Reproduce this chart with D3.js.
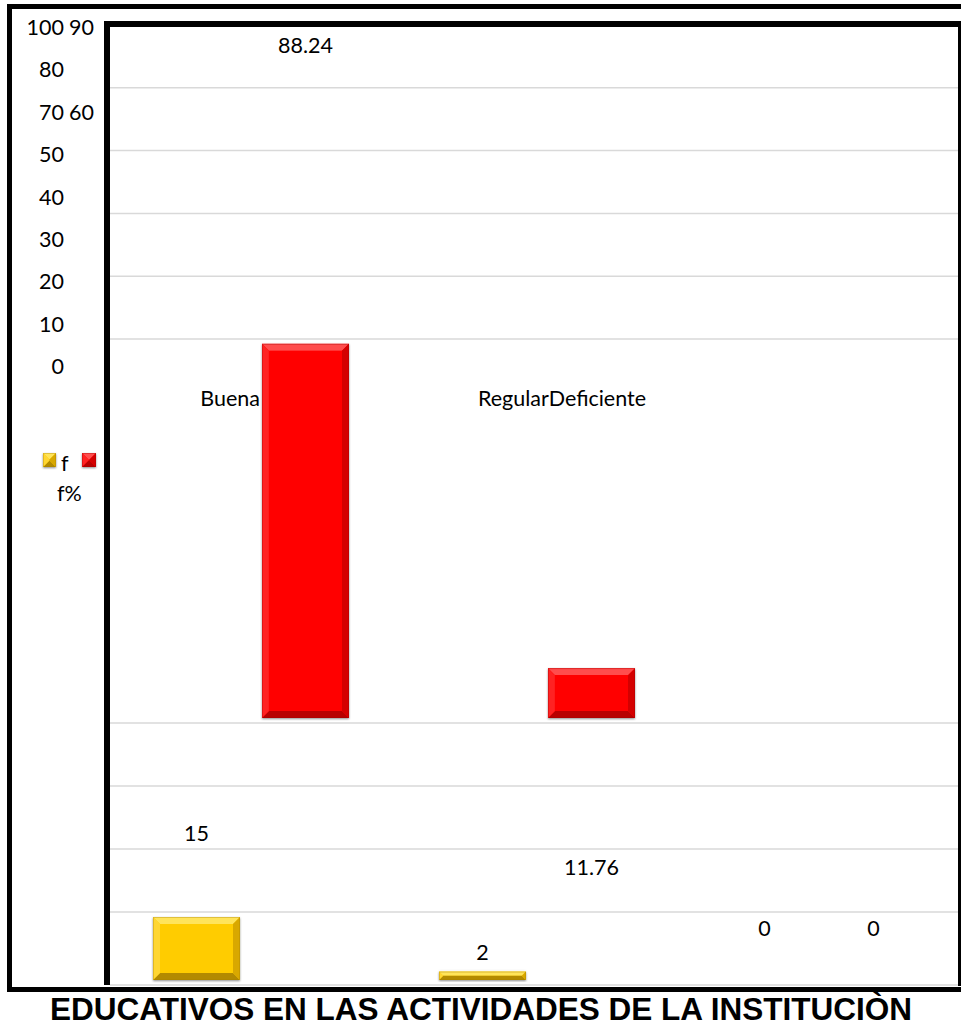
<!DOCTYPE html>
<html>
<head>
<meta charset="utf-8">
<script src="https://cdn.jsdelivr.net/npm/d3@7"></script>
<style>
  html, body { margin: 0; padding: 0; background: #fff; }
  svg { display: block; }
</style>
</head>
<body>
<div id="chart"></div>
<script>
// ---- data ----
const categories = ["Buena", "Regular", "Deficiente"];
const seriesNames = ["f", "f%"];
const fValues = [15, 2, 0];
const fPctValues = [88.24, 11.76, 0];
const yTickLines = ["100 90", "80", "70 60", "50", "40", "30", "20", "10", "0"];
const titleText = "EDUCATIVOS EN LAS ACTIVIDADES DE LA INSTITUCIÒN";

// ---- layout (positions of the broken original layout) ----
const W = 961, H = 1028;
const plot = { left: 110, right: 958, top: 25, bottom: 985 };
const fLabelY = [833, 952, 928];
const pctLabelY = [45, 867, 928];
const FONT = "Lato, 'Open Sans', 'DejaVu Sans', sans-serif";
const FS = 21.5;

const svg = d3.select("#chart").append("svg")
  .attr("width", W).attr("height", H);
svg.append("rect").attr("width", W).attr("height", H).attr("fill", "#fff");

const defs = svg.append("defs");
const sh = defs.append("filter").attr("id", "shadow").attr("x", "-20%").attr("y", "-20%").attr("width", "140%").attr("height", "140%");
sh.append("feGaussianBlur").attr("in", "SourceAlpha").attr("stdDeviation", 1.2).attr("result", "b");
sh.append("feOffset").attr("in", "b").attr("dx", 0).attr("dy", 0.5).attr("result", "o");
sh.append("feComponentTransfer").attr("in", "o").attr("result", "o2")
  .append("feFuncA").attr("type", "linear").attr("slope", 0.45);
const mg = sh.append("feMerge");
mg.append("feMergeNode").attr("in", "o2");
mg.append("feMergeNode").attr("in", "SourceGraphic");

// ---- scales ----
const x0 = d3.scaleBand().domain(categories).range([153, 153 + 286 * 3]);
const x1 = d3.scaleBand().domain(seriesNames).range([0, 196]).paddingInner(0.2018);
const yF = d3.scaleLinear().domain([0, 15]).range([980, 917]);
const yP = d3.scaleLinear().domain([0, 100]).range([718, 294]);
const gridTop = d3.scaleLinear().domain([0, 5]).range([25, 339]);
const gridBottom = d3.scaleLinear().domain([0, 3]).range([912, 723]);
const rowY = d3.scaleLinear().domain([0, 8]).range([27, 366]);

// ---- gridlines ----
const gridYs = [1, 2, 3, 4, 5].map(gridTop).concat([0, 1, 2, 3].map(gridBottom));
svg.append("g").selectAll("line").data(gridYs).join("line")
  .attr("x1", plot.left).attr("x2", plot.right)
  .attr("y1", d => d).attr("y2", d => d)
  .attr("stroke", "#d9d9d9").attr("stroke-width", 1.5);
svg.append("line").attr("x1", plot.left).attr("x2", plot.right)
  .attr("y1", plot.bottom).attr("y2", plot.bottom)
  .attr("stroke", "#d9d9d9").attr("stroke-width", 1.5);

// ---- bevelled bars ----
const styles = {
  "f":  { base: "#FFCC00", top: "#FFE45A", bottom: "#B38A00", left: "#FFD633", right: "#D9A800", edge: "#A67F00" },
  "f%": { base: "#FF0000", top: "#FF4D4D", bottom: "#B80000", left: "#FF2020", right: "#D40000", edge: "#A00000" }
};
function bevelBar(g, x, y, w, h, s) {
  if (h <= 0) return;
  const b = Math.min(7, h / 2, w / 2);
  const bg = g.append("g").attr("filter", "url(#shadow)");
  bg.append("rect").attr("x", x).attr("y", y).attr("width", w).attr("height", h).attr("fill", s.base);
  const pts = a => a.map(p => p.join(",")).join(" ");
  bg.append("polygon").attr("fill", s.top)
    .attr("points", pts([[x, y], [x + w, y], [x + w - b, y + b], [x + b, y + b]]));
  bg.append("polygon").attr("fill", s.bottom)
    .attr("points", pts([[x, y + h], [x + w, y + h], [x + w - b, y + h - b], [x + b, y + h - b]]));
  bg.append("polygon").attr("fill", s.left)
    .attr("points", pts([[x, y], [x + b, y + b], [x + b, y + h - b], [x, y + h]]));
  bg.append("polygon").attr("fill", s.right)
    .attr("points", pts([[x + w, y], [x + w - b, y + b], [x + w - b, y + h - b], [x + w, y + h]]));
  bg.append("rect").attr("x", x + b).attr("y", y + b)
    .attr("width", Math.max(0, w - 2 * b)).attr("height", Math.max(0, h - 2 * b)).attr("fill", s.base);
  bg.append("rect").attr("x", x + 0.5).attr("y", y + 0.5).attr("width", w - 1).attr("height", h - 1)
    .attr("fill", "none").attr("stroke", s.edge).attr("stroke-opacity", 0.35).attr("stroke-width", 1);
}
const barsG = svg.append("g");
categories.forEach((c, i) => {
  const xf = x0(c) + x1("f");
  bevelBar(barsG, xf, yF(fValues[i]), x1.bandwidth(), yF(0) - yF(fValues[i]), styles["f"]);
  const xp = x0(c) + x1("f%");
  bevelBar(barsG, xp, yP(fPctValues[i]), x1.bandwidth(), yP(0) - yP(fPctValues[i]), styles["f%"]);
});

// ---- value labels ----
const fmt = v => (Number.isInteger(v) ? String(v) : v.toFixed(2));
const lab = svg.append("g").attr("font-family", FONT).attr("font-size", FS).attr("fill", "#000")
  .attr("text-anchor", "middle").attr("dominant-baseline", "central");
categories.forEach((c, i) => {
  lab.append("text").attr("x", x0(c) + x1("f") + x1.bandwidth() / 2 - (i === 2 ? 4 : 0))
    .attr("y", fLabelY[i]).text(fmt(fValues[i]));
  lab.append("text").attr("x", x0(c) + x1("f%") + x1.bandwidth() / 2 - (i === 2 ? 4 : 0))
    .attr("y", pctLabelY[i]).text(fmt(fPctValues[i]));
});

// ---- category labels (overlapping, as in original) ----
const catG = svg.append("g").attr("font-family", FONT).attr("font-size", FS).attr("fill", "#000")
  .attr("dominant-baseline", "central");
catG.append("text").attr("x", 260).attr("y", 398).attr("text-anchor", "end").text(categories[0]);
catG.append("text").attr("x", 478).attr("y", 398).attr("text-anchor", "start")
  .text(categories[1] + categories[2]);

// ---- y tick labels ----
const tickG = svg.append("g").attr("font-family", FONT).attr("font-size", FS).attr("fill", "#000")
  .attr("dominant-baseline", "central");
yTickLines.forEach((line, i) => {
  const parts = line.split(" ");
  tickG.append("text").attr("x", 64).attr("y", rowY(i)).attr("text-anchor", "end").text(parts[0]);
  if (parts[1]) tickG.append("text").attr("x", 69).attr("y", rowY(i)).attr("text-anchor", "start").text(parts[1]);
});

// ---- legend ----
const legG = svg.append("g").attr("font-family", FONT).attr("font-size", FS).attr("fill", "#000");
bevelBar(legG, 43, 453, 13, 14, styles["f"]);
legG.append("text").attr("x", 61).attr("y", 463).attr("dominant-baseline", "central").text(seriesNames[0]);
bevelBar(legG, 82, 453, 14, 14, styles["f%"]);
legG.append("text").attr("x", 57).attr("y", 493).attr("dominant-baseline", "central").text(seriesNames[1]);

// ---- frames ----
const fr = svg.append("g").attr("stroke", "#000").attr("fill", "none");
// outer frame
fr.append("line").attr("x1", 7).attr("x2", W).attr("y1", 6.5).attr("y2", 6.5).attr("stroke-width", 5);
fr.append("line").attr("x1", 9.5).attr("x2", 9.5).attr("y1", 4).attr("y2", 992).attr("stroke-width", 5);
fr.append("line").attr("x1", 7).attr("x2", W).attr("y1", 989.5).attr("y2", 989.5).attr("stroke-width", 5);
// inner frame
fr.append("line").attr("x1", 104).attr("x2", W).attr("y1", 24).attr("y2", 24).attr("stroke-width", 6);
fr.append("line").attr("x1", 107).attr("x2", 107).attr("y1", 21).attr("y2", 985).attr("stroke-width", 6);
fr.append("line").attr("x1", 959.5).attr("x2", 959.5).attr("y1", 24).attr("y2", 986).attr("stroke-width", 3);

// ---- title ----
svg.append("text").attr("x", 50).attr("y", 1020)
  .attr("font-family", "'Liberation Sans Narrow', 'Liberation Sans', Arial, sans-serif")
  .attr("font-weight", "bold").attr("font-size", 31)
  .attr("textLength", 862).attr("lengthAdjust", "spacingAndGlyphs")
  .attr("fill", "#000").text(titleText);
</script>
</body>
</html>
